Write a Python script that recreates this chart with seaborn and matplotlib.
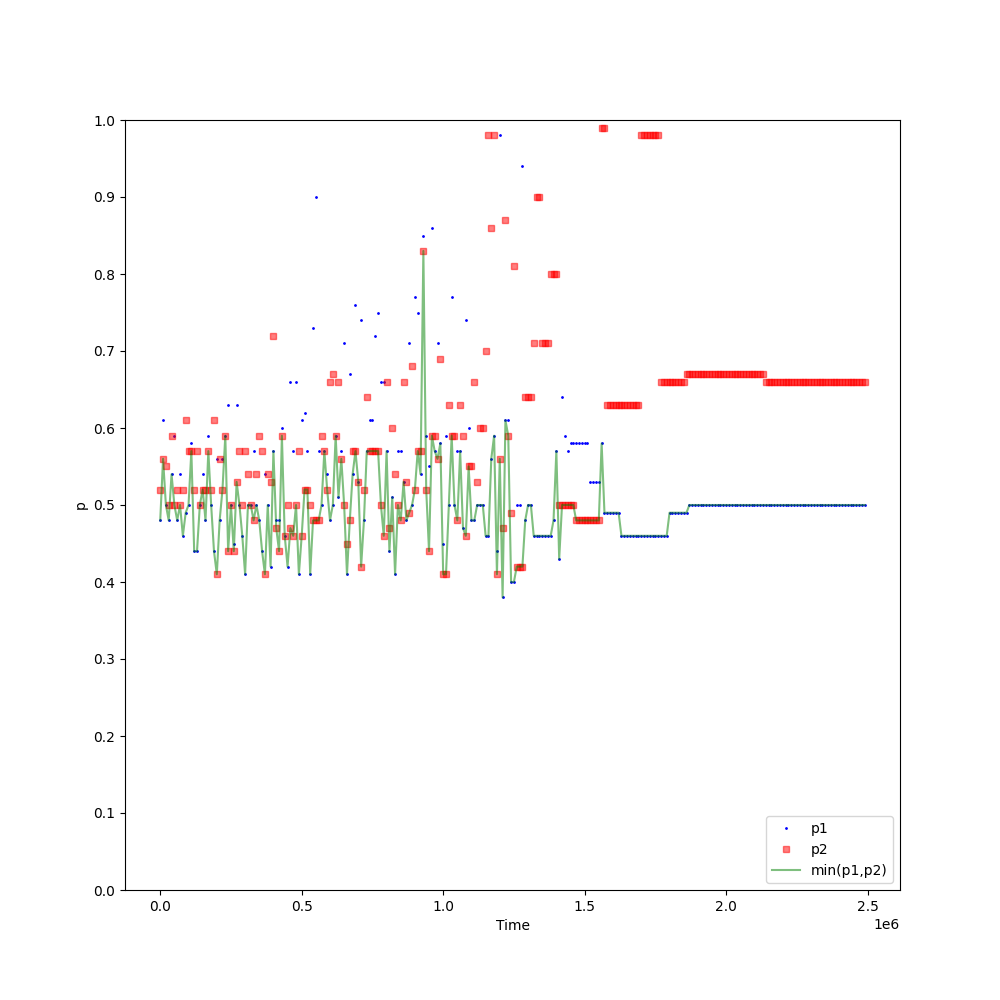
import matplotlib
matplotlib.use("Agg")
import matplotlib.pyplot as plt
import seaborn as sns
import numpy as np

# sampling step of the time axis
step = 10000

p1 = [
    0.48, 0.61, 0.50, 0.48, 0.54, 0.59, 0.48, 0.54, 0.46, 0.49, 0.50, 0.58, 0.44, 0.44, 0.50, 0.54, 0.48, 0.59, 0.50, 0.44, 0.56, 0.48,
    0.56, 0.59, 0.63, 0.50, 0.45, 0.63, 0.50, 0.46, 0.41, 0.50, 0.50, 0.57, 0.50, 0.48, 0.44, 0.54, 0.50, 0.42, 0.57, 0.48, 0.48, 0.60,
    0.46, 0.42, 0.66, 0.57, 0.66, 0.41, 0.61, 0.62, 0.57, 0.41, 0.73, 0.90, 0.57, 0.50, 0.57, 0.54, 0.48, 0.50, 0.59, 0.51, 0.57, 0.71, 0.41,
    0.67, 0.54, 0.76, 0.53, 0.74, 0.48, 0.57, 0.61, 0.61, 0.72, 0.75, 0.66, 0.66, 0.57, 0.44, 0.51, 0.41, 0.57, 0.57, 0.53,
    0.48, 0.71, 0.50, 0.77, 0.75, 0.54, 0.85, 0.59, 0.55, 0.86, 0.57, 0.71, 0.58, 0.45, 0.59, 0.50, 0.77, 0.50, 0.57, 0.57,
    0.47, 0.74, 0.60, 0.48, 0.48, 0.50, 0.50, 0.50, 0.46, 0.46, 0.56, 0.59, 0.44, 0.98, 0.38, 0.61, 0.61, 0.40, 0.40, 0.50,
    0.50, 0.94, 0.48, 0.50, 0.50,
] + [0.46] * 7 + [0.48, 0.57, 0.43, 0.64, 0.59, 0.57] + [0.58] * 7 + [0.53] * 4 + [0.58] \
  + [0.49] * 6 + [0.46] * 17 + [0.49] * 7 + [0.50] * 63

p2 = [
    0.52, 0.56, 0.55, 0.50, 0.59, 0.50, 0.52, 0.50, 0.52, 0.61, 0.57, 0.57, 0.52, 0.57, 0.50, 0.52, 0.52, 0.57, 0.52, 0.61, 0.41, 0.56,
    0.52, 0.59, 0.44, 0.50, 0.44, 0.53, 0.57, 0.50, 0.57, 0.54, 0.50, 0.48, 0.54, 0.59, 0.57, 0.41, 0.54, 0.53, 0.72, 0.47, 0.44, 0.59,
    0.46, 0.50, 0.47, 0.46, 0.50, 0.57, 0.46, 0.52, 0.52, 0.50, 0.48, 0.48, 0.48, 0.59, 0.57, 0.52, 0.66, 0.67, 0.59, 0.66, 0.56, 0.50, 0.45,
    0.48, 0.57, 0.57, 0.53, 0.42, 0.52, 0.64, 0.57, 0.57, 0.57, 0.57, 0.50, 0.46, 0.66, 0.47, 0.60, 0.54, 0.50, 0.48, 0.66,
    0.53, 0.49, 0.68, 0.52, 0.57, 0.57, 0.83, 0.52, 0.44, 0.59, 0.59, 0.56, 0.69, 0.41, 0.41, 0.63, 0.59, 0.59, 0.48, 0.63,
    0.59, 0.46, 0.55, 0.55, 0.66, 0.53, 0.60, 0.60, 0.70, 0.98, 0.86, 0.98, 0.41, 0.56, 0.47, 0.87, 0.59, 0.49, 0.81, 0.42,
    0.42, 0.42, 0.64, 0.64, 0.64,
] + [0.71, 0.90, 0.90, 0.71, 0.71, 0.71, 0.80, 0.80, 0.80] + [0.50] * 6 + [0.48] * 9 + [0.99] * 2 \
  + [0.63] * 12 + [0.98] * 7 + [0.66] * 9 + [0.67] * 28 + [0.66] * 36

time = [i * step for i in range(len(p1))]
pmin = [min(a, b) for a, b in zip(p1, p2)]

yticks = [0.0, 0.1, 0.2, 0.3, 0.4, 0.5, 0.6, 0.7, 0.8, 0.9, 1.0]

fig, ax = plt.subplots(figsize=(10, 10), dpi=100)

sns.lineplot(x=time, y=p1, ax=ax, estimator=None, sort=False,
             color="blue", marker=".", linestyle="", markersize=2,
             markeredgecolor="blue", markeredgewidth=1, label="p1")
sns.lineplot(x=time, y=p2, ax=ax, estimator=None, sort=False,
             color="red", marker="s", linestyle="", markersize=4, alpha=0.5,
             markeredgecolor="red", markeredgewidth=1, label="p2")
sns.lineplot(x=time, y=pmin, ax=ax, estimator=None, sort=False,
             color="green", linewidth=1.5, alpha=0.5, label="min(p1,p2)")

ax.set_ylim(0, 1)
ax.set_yticks(yticks)
ax.set_xlabel("Time")
ax.set_ylabel("p")
ax.legend(loc="lower right")

fig.savefig("out.png", dpi=100)
